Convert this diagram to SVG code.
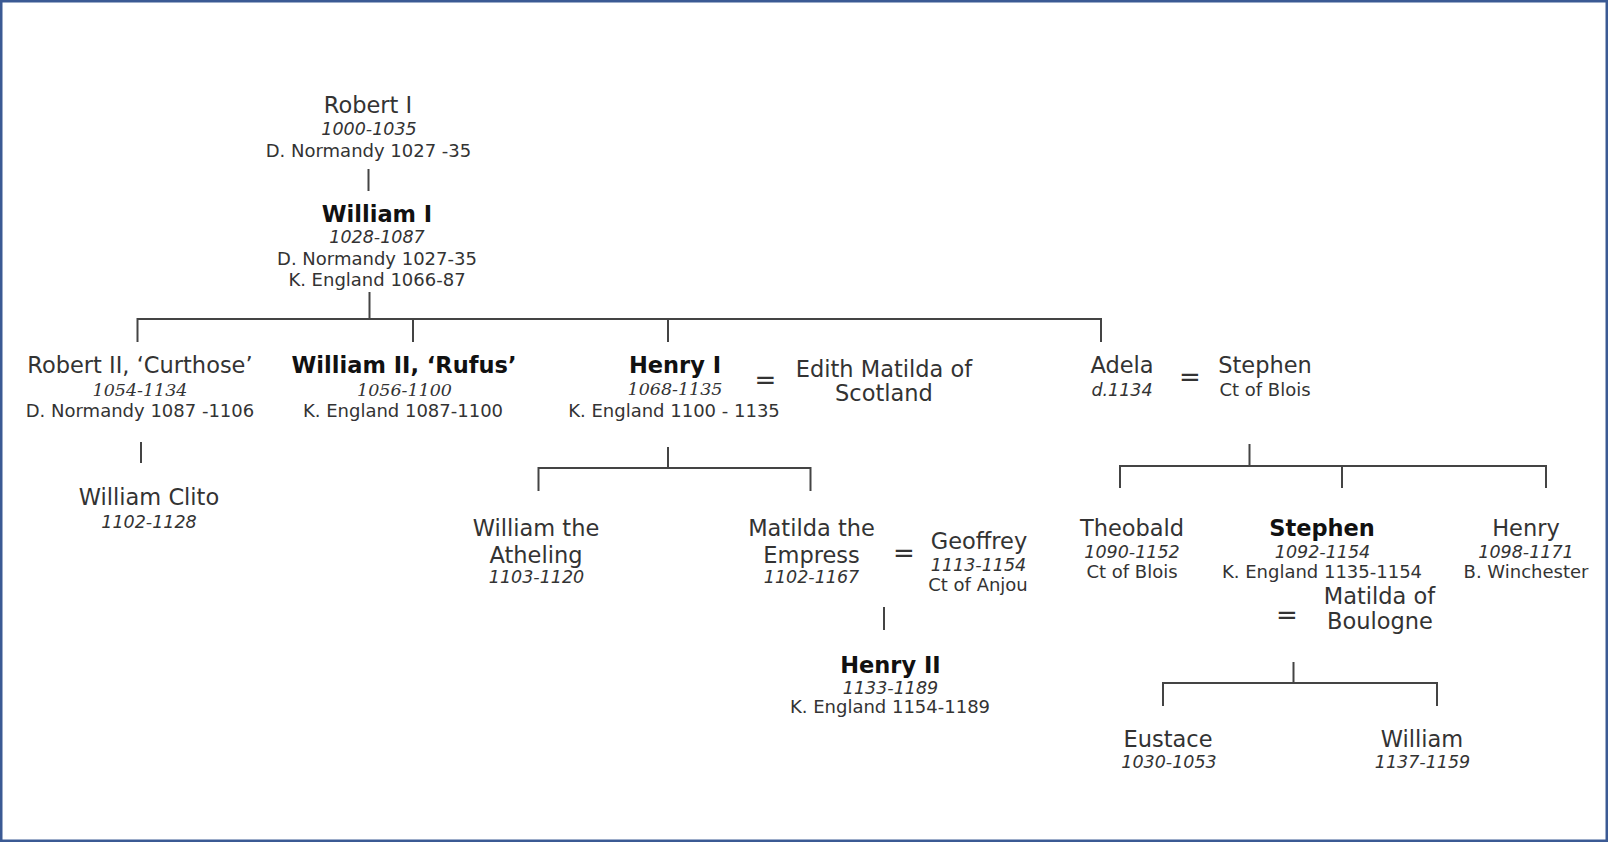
<svg xmlns="http://www.w3.org/2000/svg" width="1608" height="842" viewBox="0 0 1608 842">
<style>
text{font-family:"DejaVu Sans","Verdana",sans-serif;fill:#333;text-anchor:middle}
.n{font-size:22.5px}
.b{font-size:22.5px;font-weight:bold;fill:#111}
.d{font-size:18px}
.i{font-size:17.5px;font-style:italic}
.s{font-size:17.5px;font-style:italic;font-family:"DejaVu Serif",serif}
.eq{font-size:26px}
.c line{stroke:#444;stroke-width:2}
</style>
<rect x="1.25" y="1.25" width="1605.5" height="839.5" fill="#fff" stroke="#3B5A94" stroke-width="2.5"/>
<g class="c" id="connectors">
<line x1="368.5" y1="169" x2="368.5" y2="191"/>
<line x1="369.5" y1="292" x2="369.5" y2="319"/>
<line x1="137.5" y1="319" x2="1101" y2="319"/>
<line x1="137.5" y1="318" x2="137.5" y2="342"/>
<line x1="413" y1="318" x2="413" y2="342"/>
<line x1="668" y1="318" x2="668" y2="342"/>
<line x1="1101" y1="318" x2="1101" y2="342"/>
<line x1="141" y1="442" x2="141" y2="463"/>
<line x1="668" y1="447" x2="668" y2="468"/>
<line x1="538.5" y1="468" x2="810.5" y2="468"/>
<line x1="538.5" y1="467" x2="538.5" y2="491"/>
<line x1="810.5" y1="467" x2="810.5" y2="491"/>
<line x1="884" y1="607" x2="884" y2="630"/>
<line x1="1249.5" y1="444" x2="1249.5" y2="466"/>
<line x1="1120" y1="466" x2="1546" y2="466"/>
<line x1="1120" y1="465" x2="1120" y2="488"/>
<line x1="1342" y1="465" x2="1342" y2="488"/>
<line x1="1546" y1="465" x2="1546" y2="488"/>
<line x1="1293.5" y1="662" x2="1293.5" y2="683"/>
<line x1="1163" y1="683" x2="1437" y2="683"/>
<line x1="1163" y1="682" x2="1163" y2="706"/>
<line x1="1437" y1="682" x2="1437" y2="706"/>
</g>
<g id="robert1"><text class="n" x="368" y="113">Robert I</text><text class="i" x="369" y="135">1000-1035</text><text class="d" x="368.5" y="157">D. Normandy 1027 -35</text></g>
<g id="william1"><text class="b" x="377" y="222">William I</text><text class="i" x="377" y="243">1028-1087</text><text class="d" x="377" y="265">D. Normandy 1027-35</text><text class="d" x="377" y="286">K. England 1066-87</text></g>
<g id="robert2"><text class="n" x="140" y="373">Robert II, ‘Curthose’</text><text class="s" x="140" y="396">1054-1134</text><text class="d" x="140" y="417">D. Normandy 1087 -1106</text></g>
<g id="william2"><text class="b" x="404" y="373">William II, ‘Rufus’</text><text class="s" x="404.5" y="396">1056-1100</text><text class="d" x="403" y="417">K. England 1087-1100</text></g>
<g id="henry1"><text class="b" x="675" y="373">Henry I</text><text class="s" x="675" y="395">1068-1135</text><text class="d" x="674" y="417">K. England 1100 - 1135</text></g>
<g id="eq-henry1"><text class="eq" x="765.5" y="389">=</text></g>
<g id="edith"><text class="n" x="884" y="377">Edith Matilda of</text><text class="n" x="884" y="401">Scotland</text></g>
<g id="adela"><text class="n" x="1122" y="373">Adela</text><text class="i" x="1122" y="396">d.1134</text></g>
<g id="eq-adela"><text class="eq" x="1190" y="386">=</text></g>
<g id="stephen-blois"><text class="n" x="1265" y="373">Stephen</text><text class="d" x="1265" y="396">Ct of Blois</text></g>
<g id="clito"><text class="n" x="149" y="505">William Clito</text><text class="i" x="149" y="528">1102-1128</text></g>
<g id="atheling"><text class="n" x="536" y="536">William the</text><text class="n" x="536" y="563">Atheling</text><text class="i" x="536.5" y="583">1103-1120</text></g>
<g id="matilda-empress"><text class="n" x="811.5" y="536">Matilda the</text><text class="n" x="811.5" y="563">Empress</text><text class="i" x="811.5" y="583">1102-1167</text></g>
<g id="eq-matilda"><text class="eq" x="904" y="562">=</text></g>
<g id="geoffrey"><text class="n" x="979" y="549">Geoffrey</text><text class="i" x="978.5" y="571">1113-1154</text><text class="d" x="978" y="591">Ct of Anjou</text></g>
<g id="henry2"><text class="b" x="890.5" y="673">Henry II</text><text class="i" x="890.5" y="694">1133-1189</text><text class="d" x="890" y="713">K. England 1154-1189</text></g>
<g id="theobald"><text class="n" x="1132" y="536">Theobald</text><text class="i" x="1132" y="558">1090-1152</text><text class="d" x="1132" y="578">Ct of Blois</text></g>
<g id="stephen"><text class="b" x="1322" y="536">Stephen</text><text class="i" x="1322.5" y="558">1092-1154</text><text class="d" x="1322" y="578">K. England 1135-1154</text></g>
<g id="henry-winchester"><text class="n" x="1526" y="536">Henry</text><text class="i" x="1526" y="558">1098-1171</text><text class="d" x="1526" y="578">B. Winchester</text></g>
<g id="eq-stephen"><text class="eq" x="1287" y="624">=</text></g>
<g id="matilda-boulogne"><text class="n" x="1379.5" y="604">Matilda of</text><text class="n" x="1380" y="629">Boulogne</text></g>
<g id="eustace"><text class="n" x="1168" y="747">Eustace</text><text class="i" x="1169" y="768">1030-1053</text></g>
<g id="william-son"><text class="n" x="1422" y="747">William</text><text class="i" x="1422.5" y="768">1137-1159</text></g>
</svg>
